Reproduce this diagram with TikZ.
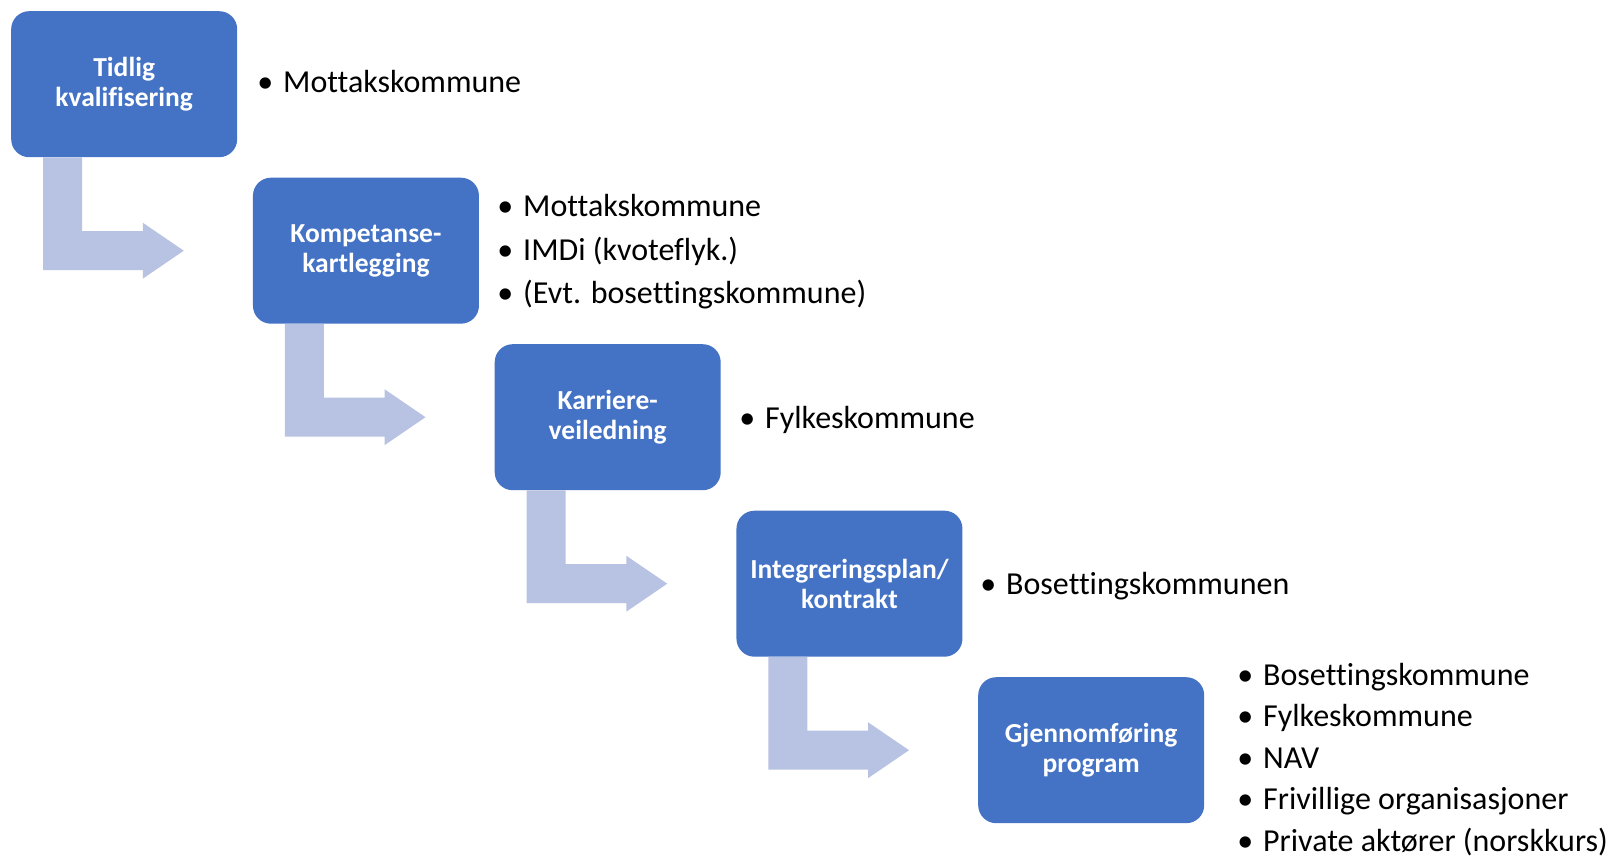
\documentclass[tikz,border=0pt]{standalone}
\usepackage{fontspec}
\setmainfont{Carlito}[Ligatures=CommonOff]
\usetikzlibrary{calc}
\definecolor{boxblue}{HTML}{4472C4}
\definecolor{arrowblue}{HTML}{B8C3E3}
\tikzset{
  stepbox/.style={rectangle, rounded corners=18pt, fill=boxblue, minimum width=226pt,
    minimum height=146pt, inner sep=0pt, text=white,
    font=\bfseries\fontsize{27.5}{30}\selectfont, align=center, anchor=north west},
  item/.style={anchor=base west, inner sep=0pt, font=\fontsize{32}{38}\selectfont, text=black},
  bendarrow/.style={fill=arrowblue}
}
\newcommand\steparrow[2]{%
  \fill[bendarrow] let \p1=(#1.south west), \p2=(#2.west) in
    (\x1+32pt,\y1) -- (\x1+32pt,\y2-19.5pt) -- (\x2-110pt,\y2-19.5pt) --
    (\x2-110pt,\y2-28pt) -- (\x2-69pt,\y2) -- (\x2-110pt,\y2+28pt) --
    (\x2-110pt,\y2+19.5pt) -- (\x1+71pt,\y2+19.5pt) -- (\x1+71pt,\y1) -- cycle;}
\newcommand\bul{\llap{\textbullet\hspace{10pt}}}
\begin{document}
\begin{tikzpicture}[x=1pt,y=-1pt]
\useasboundingbox (0,0) rectangle (1616,856);
\node[stepbox] (b1) at (11,11) {Tidlig\\kvalifisering};
\node[stepbox] (b2) at (252.75,177.5) {Kompetanse-\\kartlegging};
\node[stepbox] (b3) at (494.5,344) {Karriere-\\veiledning};
\node[stepbox] (b4) at (736.25,510.5) {Integreringsplan/\\kontrakt};
\node[stepbox] (b5) at (978,677) {Gjennomføring\\program};
\steparrow{b1}{b2}
\steparrow{b2}{b3}
\steparrow{b3}{b4}
\steparrow{b4}{b5}
\node[item] (t1) at (283,93) {\bul Mottakskommune};
\node[item] (t2a) at (523,216.5) {\bul Mottakskommune};
\node[item] (t2b) at (523,260) {\bul IMDi (kvoteflyk.)};
\node[item] (t2c) at (523,303.5) {\bul (Evt. bosettingskommune)};
\node[item] (t3) at (765,428) {\bul Fylkeskommune};
\node[item] (t4) at (1006,594) {\bul Bosettingskommunen};
\node[item] (t5a) at (1263,685) {\bul Bosettingskommune};
\node[item] (t5b) at (1263,726.5) {\bul Fylkeskommune};
\node[item] (t5c) at (1263,768) {\bul NAV};
\node[item] (t5d) at (1263,809.5) {\bul Frivillige organisasjoner};
\node[item] (t5e) at (1263,851) {\bul Private aktører (norskkurs)};
\end{tikzpicture}
\end{document}
